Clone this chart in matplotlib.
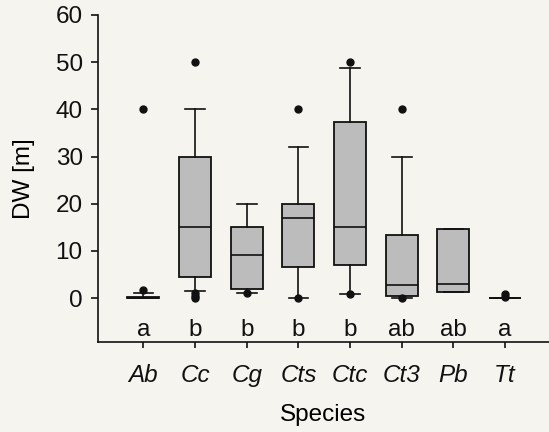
import matplotlib
matplotlib.use("Agg")
import matplotlib.pyplot as plt

species = ["Ab", "Cc", "Cg", "Cts", "Ctc", "Ct3", "Pb", "Tt"]
q1 = [0.0, 4.5, 2.0, 6.5, 7.0, 0.5, 1.3, 0.0]
med = [0.0, 15.0, 9.2, 17.0, 15.0, 2.8, 3.0, 0.0]
q3 = [0.2, 30.0, 15.0, 20.0, 37.3, 13.3, 14.7, 0.1]
whislo = [0.0, 1.5, 1.0, 0.0, 0.8, 0.0, 1.3, 0.0]
whishi = [1.0, 40.0, 20.0, 32.0, 48.8, 30.0, 14.7, 0.1]
fliers = [[1.7, 40.0], [0.0, 0.5, 1.0, 50.0], [1.0], [0.0, 40.0],
          [0.8, 50.0], [0.0, 40.0], [], [0.3, 0.8]]
letters = ["a", "b", "b", "b", "b", "ab", "ab", "a"]
yticks = [0, 10, 20, 30, 40, 50, 60]

bg = "#f6f4ef"
fs = 17.5
fig = plt.figure(figsize=(5.49, 4.32), dpi=100, facecolor=bg)
ax = fig.add_axes([0.1785, 0.2083, 0.8215, 0.757], facecolor=bg)

stats = []
for i in range(len(species)):
    stats.append(dict(label=species[i], q1=q1[i], med=med[i], q3=q3[i],
                      whislo=whislo[i], whishi=whishi[i], fliers=fliers[i]))

pos = list(range(1, len(species) + 1))
ax.bxp(stats, positions=pos, widths=0.62, capwidths=0.38, patch_artist=True,
       showfliers=True,
       boxprops=dict(facecolor="#bcbcbc", edgecolor="#111111", linewidth=1.3),
       medianprops=dict(color="#111111", linewidth=1.2),
       whiskerprops=dict(color="#111111", linewidth=1.2),
       capprops=dict(color="#111111", linewidth=1.2),
       flierprops=dict(marker="o", markerfacecolor="#111111",
                       markeredgecolor="#111111", markersize=5))

for p, l in zip(pos, letters):
    ax.text(p, -6.8, l, ha="center", va="center", fontsize=fs,
            family="Liberation Sans", color="#111111")

ax.set_xlim(0.12, 8.85)
ax.set_ylim(-9.3, 60)
ax.spines["top"].set_visible(False)
ax.spines["right"].set_visible(False)
for s in ["left", "bottom"]:
    ax.spines[s].set_linewidth(1.2)
    ax.spines[s].set_color("#111111")

ax.set_yticks(yticks)
ax.set_yticklabels([str(v) for v in yticks], fontsize=fs, family="Liberation Sans")
ax.set_xticks(pos)
ax.set_xticklabels(species, fontsize=fs, family="Liberation Sans", style="italic")
ax.tick_params(axis="y", direction="out", length=5, width=1.2, pad=6, colors="#111111")
ax.tick_params(axis="x", direction="out", length=4, width=1.2, pad=12, colors="#111111")

ax.set_xlabel("Species", fontsize=fs, family="Liberation Sans", labelpad=12)
ax.set_ylabel("DW [m]", fontsize=fs, family="Liberation Sans", labelpad=15)

fig.savefig("out.png", dpi=100, facecolor=bg)
